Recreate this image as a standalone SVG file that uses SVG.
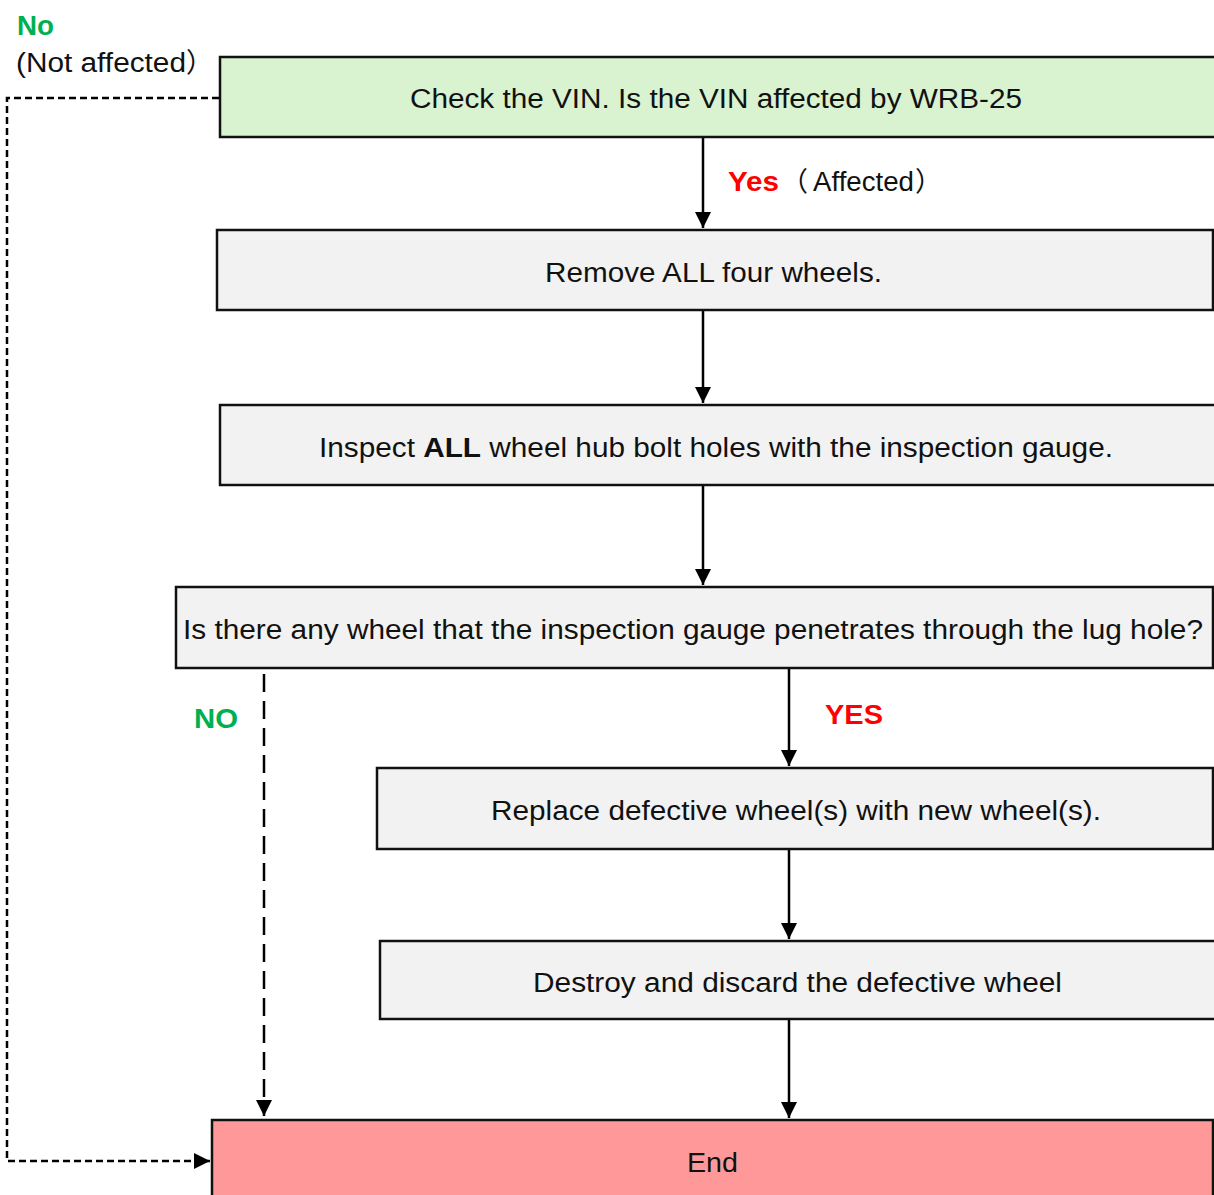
<svg xmlns="http://www.w3.org/2000/svg" width="1214" height="1195" viewBox="0 0 1214 1195">
<style>
.box{stroke:#111;stroke-width:2.5}
.g{fill:#d9f2d0}
.p{fill:#f2f2f2}
.e{fill:#ff9999}
.t{font-family:"Liberation Sans","Noto Sans CJK JP",Arial,sans-serif;font-size:27px;fill:#111}
.b{font-weight:bold}
.grn{fill:#00b050}
.red{fill:#ff0000}
.ln{stroke:#000;stroke-width:2.5;fill:none}
</style>
<defs>
<marker id="ah" markerUnits="userSpaceOnUse" markerWidth="16" markerHeight="18" refX="16" refY="8" orient="auto">
<path d="M0,0 L16,8 L0,16 Z" fill="#000"/>
</marker>
</defs>
<rect width="1214" height="1195" fill="#fff"/>
<g id="connectors">
<path class="ln" d="M703,137 V228" marker-end="url(#ah)"/>
<path class="ln" d="M703,311 V403" marker-end="url(#ah)"/>
<path class="ln" d="M703,486 V585" marker-end="url(#ah)"/>
<path class="ln" d="M789,669 V766" marker-end="url(#ah)"/>
<path class="ln" d="M789,850 V939" marker-end="url(#ah)"/>
<path class="ln" d="M789,1020 V1118" marker-end="url(#ah)"/>
<path class="ln" d="M264,674 V1116" stroke-dasharray="18 9" marker-end="url(#ah)"/>
<path class="ln" d="M219,98 H7 V1161 H210" stroke-dasharray="7 4" marker-end="url(#ah)"/>
</g>
<g id="labels">
<text class="t b grn" x="17" y="35" font-size="25" textLength="37" lengthAdjust="spacingAndGlyphs">No</text>
<text class="t" x="16" y="72"><tspan textLength="170" lengthAdjust="spacingAndGlyphs">(Not affected</tspan><tspan x="186" font-family="Noto Sans CJK JP">）</tspan></text>
<text class="t b red" x="728" y="191" font-size="28" textLength="51" lengthAdjust="spacingAndGlyphs">Yes</text>
<text class="t" x="781" y="191"><tspan font-family="Noto Sans CJK JP">（</tspan><tspan x="813" textLength="101" lengthAdjust="spacingAndGlyphs">Affected</tspan><tspan x="915" font-family="Noto Sans CJK JP">）</tspan></text>
<text class="t b grn" x="194" y="728" textLength="44" lengthAdjust="spacingAndGlyphs">NO</text>
<text class="t b red" x="825" y="724" textLength="58" lengthAdjust="spacingAndGlyphs">YES</text>
</g>
<g id="n1">
<rect class="box g" x="220" y="57" width="1000" height="80"/>
<text class="t" x="410" y="108" textLength="612" lengthAdjust="spacingAndGlyphs">Check the VIN. Is the VIN affected by WRB-25</text>
</g>
<g id="n2">
<rect class="box p" x="217" y="230" width="996" height="80"/>
<text class="t" x="545" y="282" textLength="337" lengthAdjust="spacingAndGlyphs">Remove ALL four wheels.</text>
</g>
<g id="n3">
<rect class="box p" x="220" y="405" width="1000" height="80"/>
<text class="t" x="319" y="457" textLength="794" lengthAdjust="spacingAndGlyphs">Inspect <tspan class="b">ALL</tspan> wheel hub bolt holes with the inspection gauge.</text>
</g>
<g id="n4">
<rect class="box p" x="176" y="587" width="1037" height="81"/>
<text class="t" x="183" y="639" textLength="1020" lengthAdjust="spacingAndGlyphs">Is there any wheel that the inspection gauge penetrates through the lug hole?</text>
</g>
<g id="n5">
<rect class="box p" x="377" y="768" width="836" height="81"/>
<text class="t" x="491" y="820" textLength="610" lengthAdjust="spacingAndGlyphs">Replace defective wheel(s) with new wheel(s).</text>
</g>
<g id="n6">
<rect class="box p" x="380" y="941" width="840" height="78"/>
<text class="t" x="533" y="992" textLength="529" lengthAdjust="spacingAndGlyphs">Destroy and discard the defective wheel</text>
</g>
<g id="n7">
<rect class="box e" x="212" y="1120" width="1001" height="85"/>
<text class="t" x="687" y="1172" textLength="51" lengthAdjust="spacingAndGlyphs">End</text>
</g>
</svg>
